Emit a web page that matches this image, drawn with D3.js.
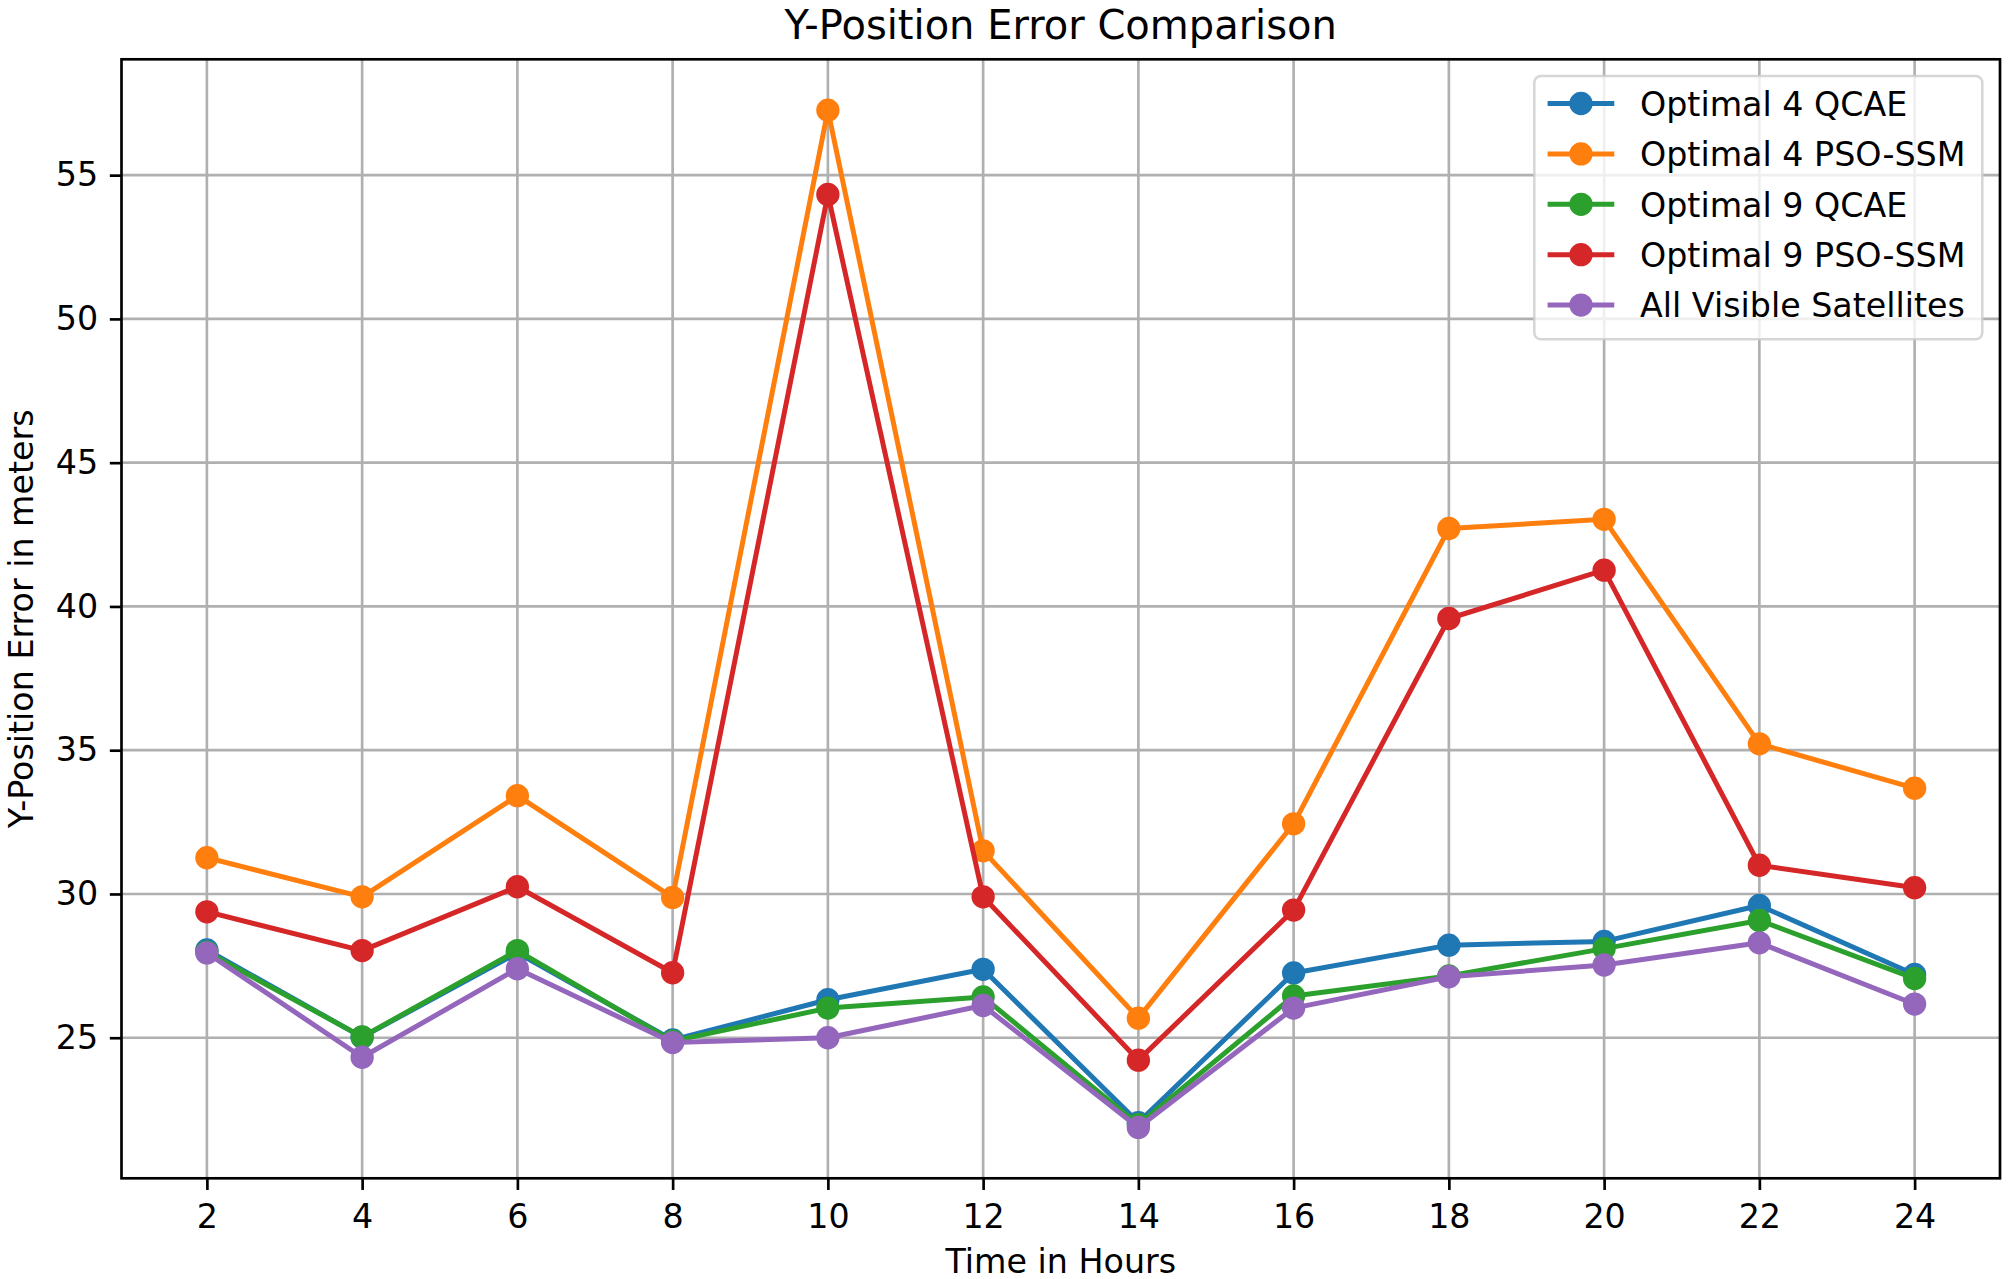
<!DOCTYPE html>
<html>
<head>
<meta charset="utf-8">
<script src="https://cdn.jsdelivr.net/npm/d3@7"></script>
<style>
  html, body { margin: 0; padding: 0; background: #ffffff; }
  svg { display: block; font-family: "DejaVu Sans", sans-serif; }
</style>
</head>
<body>
<svg id="chart" width="2008" height="1279"></svg>
<script>
// ---- data ----
const hours = [2, 4, 6, 8, 10, 12, 14, 16, 18, 20, 22, 24];
const optimal4QCAE   = [28.05, 25.02, 27.95, 24.92, 26.32, 27.38, 22.05, 27.25, 28.22, 28.35, 29.60, 27.20];
const optimal4PSOSSM = [31.26, 29.90, 33.42, 29.88, 57.26, 31.50, 25.68, 32.44, 42.71, 43.03, 35.22, 33.68];
const optimal9QCAE   = [27.98, 25.03, 28.03, 24.88, 26.03, 26.42, 21.98, 26.45, 27.15, 28.10, 29.08, 27.06];
const optimal9PSOSSM = [29.38, 28.03, 30.25, 27.26, 54.33, 29.90, 24.22, 29.44, 39.58, 41.26, 31.00, 30.22];
const allVisible     = [27.95, 24.32, 27.40, 24.83, 25.00, 26.12, 21.88, 26.03, 27.12, 27.53, 28.30, 26.17];
const seriesNames = ["Optimal 4 QCAE", "Optimal 4 PSO-SSM", "Optimal 9 QCAE", "Optimal 9 PSO-SSM", "All Visible Satellites"];
const seriesValues = [optimal4QCAE, optimal4PSOSSM, optimal9QCAE, optimal9PSOSSM, allVisible];
const yTickValues = [25, 30, 35, 40, 45, 50, 55];
const xTickValues = hours;
const titleText = "Y-Position Error Comparison";
const xLabelText = "Time in Hours";
const yLabelText = "Y-Position Error in meters";

// ---- styling ----
const colors = ["#1f77b4", "#ff7f0e", "#2ca02c", "#d62728", "#9467bd"];
const plot = { left: 121.5, right: 2000, top: 59.3, bottom: 1178.3 };
const fs = 33.3;

const svg = d3.select("#chart");

// domains with matplotlib-like 5% margins
const xMin = d3.min(hours), xMax = d3.max(hours);
const xPad = (xMax - xMin) * 0.05;
const allVals = seriesValues.flat();
const yMin = d3.min(allVals), yMax = d3.max(allVals);
const yPad = (yMax - yMin) * 0.05;

const x = d3.scaleLinear().domain([xMin - xPad, xMax + xPad]).range([plot.left, plot.right]);
const y = d3.scaleLinear().domain([yMin - yPad, yMax + yPad]).range([plot.bottom, plot.top]);

// grid
const grid = svg.append("g");
grid.selectAll("line.gx").data(xTickValues).enter().append("line")
  .attr("x1", d => x(d)).attr("x2", d => x(d))
  .attr("y1", plot.top).attr("y2", plot.bottom)
  .attr("stroke", "#b0b0b0").attr("stroke-width", 2.67);
grid.selectAll("line.gy").data(yTickValues).enter().append("line")
  .attr("y1", d => y(d)).attr("y2", d => y(d))
  .attr("x1", plot.left).attr("x2", plot.right)
  .attr("stroke", "#b0b0b0").attr("stroke-width", 2.67);

// series
const line = d3.line().x((d, i) => x(hours[i])).y(d => y(d));
seriesValues.forEach((vals, si) => {
  const g = svg.append("g");
  g.append("path").datum(vals)
    .attr("d", line)
    .attr("fill", "none")
    .attr("stroke", colors[si])
    .attr("stroke-width", 5)
    .attr("stroke-linejoin", "round")
    .attr("stroke-linecap", "square");
  g.selectAll("circle").data(vals).enter().append("circle")
    .attr("cx", (d, i) => x(hours[i]))
    .attr("cy", d => y(d))
    .attr("r", 10)
    .attr("fill", colors[si])
    .attr("stroke", colors[si])
    .attr("stroke-width", 3.33);
});

// axes
const xAxis = d3.axisBottom(x).tickValues(xTickValues).tickFormat(d3.format("d"))
  .tickSize(11.67).tickPadding(11.67);
const yAxis = d3.axisLeft(y).tickValues(yTickValues).tickFormat(d3.format("d"))
  .tickSize(11.67).tickPadding(11.67);

const gx = svg.append("g").attr("transform", `translate(0,${plot.bottom})`).call(xAxis);
const gy = svg.append("g").attr("transform", `translate(${plot.left},0)`).call(yAxis);
[gx, gy].forEach(g => {
  g.select(".domain").remove();
  g.selectAll(".tick line").attr("stroke", "#000").attr("stroke-width", 2.67);
  g.selectAll(".tick text").attr("fill", "#000")
    .style("font-family", "'DejaVu Sans', sans-serif").style("font-size", fs + "px");
});
gx.selectAll(".tick text").attr("dy", "0.78em");

// spines
svg.append("rect")
  .attr("x", plot.left).attr("y", plot.top)
  .attr("width", plot.right - plot.left).attr("height", plot.bottom - plot.top)
  .attr("fill", "none").attr("stroke", "#000").attr("stroke-width", 2.67);

// title and labels
svg.append("text")
  .attr("x", (plot.left + plot.right) / 2).attr("y", 39)
  .attr("text-anchor", "middle")
  .style("font-size", "40px").attr("fill", "#000")
  .text(titleText);
svg.append("text")
  .attr("x", (plot.left + plot.right) / 2).attr("y", 1272.5)
  .attr("text-anchor", "middle")
  .style("font-size", fs + "px").attr("fill", "#000")
  .text(xLabelText);
svg.append("text")
  .attr("transform", `translate(32.5,${(plot.top + plot.bottom) / 2}) rotate(-90)`)
  .attr("text-anchor", "middle")
  .style("font-size", fs + "px").attr("fill", "#000")
  .text(yLabelText);

// legend
const leg = svg.append("g");
leg.append("rect")
  .attr("x", 1534.3).attr("y", 76)
  .attr("width", 448).attr("height", 263.3)
  .attr("rx", 6.7).attr("ry", 6.7)
  .attr("fill", "#ffffff").attr("fill-opacity", 0.8)
  .attr("stroke", "#cccccc").attr("stroke-opacity", 0.8).attr("stroke-width", 2.5);
seriesNames.forEach((name, i) => {
  const cy = 103.5 + i * 50.4;
  leg.append("line")
    .attr("x1", 1547.6).attr("x2", 1614.3)
    .attr("y1", cy).attr("y2", cy)
    .attr("stroke", colors[i]).attr("stroke-width", 5);
  leg.append("circle")
    .attr("cx", 1581).attr("cy", cy).attr("r", 10)
    .attr("fill", colors[i]).attr("stroke", colors[i]).attr("stroke-width", 3.33);
  leg.append("text")
    .attr("x", 1640).attr("y", cy + 12.3)
    .style("font-size", fs + "px").attr("fill", "#000")
    .text(name);
});
</script>
</body>
</html>
